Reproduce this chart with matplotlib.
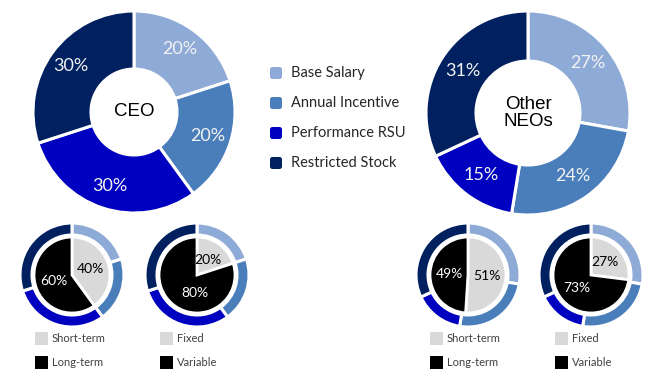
import matplotlib
matplotlib.use("Agg")
import matplotlib.pyplot as plt
from matplotlib.patches import FancyBboxPatch

# data
components = ["Base Salary", "Annual Incentive", "Performance RSU", "Restricted Stock"]
ceo_mix = [20, 20, 30, 30]
neo_mix = [27, 24, 15, 31]
ceo_term = [40, 60]      # short-term, long-term
ceo_fixed = [20, 80]     # fixed, variable
neo_term = [51, 49]
neo_fixed = [27, 73]
term_labels = ["Short-term", "Long-term"]
fixed_labels = ["Fixed", "Variable"]

comp_colors = ["#8EAAD6", "#4A7EBB", "#0000C0", "#002060"]
split_colors = ["#D9D9D9", "#000000"]
W, H = 658, 387

fig = plt.figure(figsize=(W / 100, H / 100), dpi=100)
ax = fig.add_axes([0, 0, 1, 1])


def py(y):
    return H - y


def big_donut(cx, cy, r, hole, values, title, ldist):
    wedges, texts = ax.pie(
        values, center=(cx, py(cy)), radius=r, startangle=90, counterclock=False,
        colors=comp_colors, labels=[f"{v}%" for v in values], labeldistance=ldist,
        wedgeprops=dict(width=r - hole, edgecolor="white", linewidth=2.2),
        textprops=dict(color="#F2F2F2", fontsize=13, family="Lato"),
    )
    for t in texts:
        t.set_ha("center")
        t.set_va("center")
    ax.text(cx, py(cy), title, ha="center", va="center", fontsize=13.5,
            family="Liberation Sans", color="black", linespacing=1.05)


def small_donut(cx, cy, ring_vals, split_vals, names, lx, move=None):
    R = 52
    ax.pie(ring_vals, center=(cx, py(cy)), radius=R, startangle=90, counterclock=False,
           colors=comp_colors, wedgeprops=dict(width=12, edgecolor="white", linewidth=2.2))
    wedges, texts = ax.pie(
        split_vals, center=(cx, py(cy)), radius=38, startangle=90, counterclock=False,
        colors=split_colors, labels=[f"{v}%" for v in split_vals], labeldistance=0.5,
        wedgeprops=dict(edgecolor="white", linewidth=2.0),
        textprops=dict(fontsize=10, family="Lato"),
    )
    for t, c in zip(texts, ["black", "white"]):
        t.set_ha("center")
        t.set_va("center")
        t.set_color(c)
    if move is not None:
        texts[1].set_position((cx + move[0], py(cy + move[1])))
    for k, (name, col) in enumerate(zip(names, split_colors)):
        yy = 338 + k * 24
        ax.add_patch(plt.Rectangle((lx, py(yy + 6.5)), 13, 13, color=col, lw=0))
        ax.text(lx + 17, py(yy), name, ha="left", va="center", fontsize=8,
                family="Lato", color="#404040")


big_donut(134, 112, 101, 43, ceo_mix, "CEO", 0.77)
big_donut(528, 113, 102, 52, neo_mix, "Other\nNEOs", 0.76)

small_donut(72, 275, ceo_mix, ceo_term, term_labels, 35)
small_donut(197, 275, ceo_mix, ceo_fixed, fixed_labels, 160, move=(-2, 18))
small_donut(468, 275, neo_mix, neo_term, term_labels, 430)
small_donut(591, 275, neo_mix, neo_fixed, fixed_labels, 555)

# main legend
for k, (name, col) in enumerate(zip(components, comp_colors)):
    yy = 73 + k * 30
    ax.add_patch(FancyBboxPatch((270, py(yy + 6)), 12, 12,
                                boxstyle="round,pad=0,rounding_size=2.5",
                                color=col, lw=0))
    ax.text(291, py(yy), name, ha="left", va="center", fontsize=10.5,
            family="Lato", color="#262626")

ax.set_xlim(0, W)
ax.set_ylim(0, H)
ax.set_aspect("equal")
ax.axis("off")
fig.savefig("out.png", dpi=100)
